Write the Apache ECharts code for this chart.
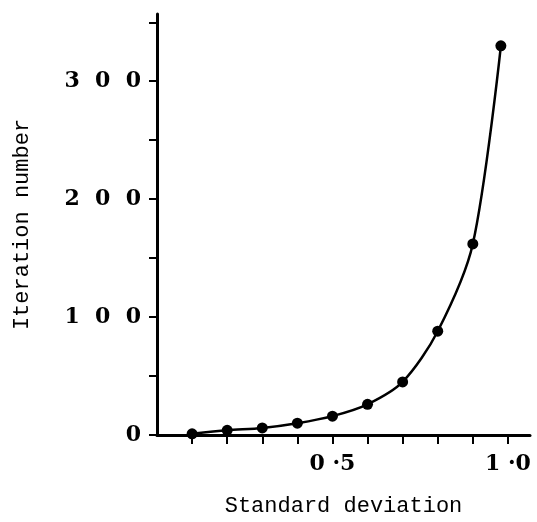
<!DOCTYPE HTML>
<html>
<head>
    <meta charset="utf-8">
    <title>Iteration number vs standard deviation</title>
    <script src="https://cdn.jsdelivr.net/npm/echarts@6/dist/echarts.min.js"></script>
    <style>
        html, body { margin: 0; padding: 0; background: #fff; }
        #myChart { width: 537px; height: 522px; }
    </style>
</head>
<body>
<div id="myChart"></div>
<script>
    // values
    var sdValues = [0.1, 0.2, 0.3, 0.4, 0.5, 0.6, 0.7, 0.8, 0.9, 0.98];
    var iterValues = [1, 4, 6, 10, 16, 26, 45, 88, 162, 330];
    var xTickValues = [0.1, 0.2, 0.3, 0.4, 0.5, 0.6, 0.7, 0.8, 0.9, 1.0];
    var xLabelValues = [0.5, 1.0];
    var xLabelText = ['0 ·5', '1 ·0'];
    var yTickValues = [0, 50, 100, 150, 200, 250, 300, 350];
    var yLabelValues = [0, 100, 200, 300];
    var yLabelText = ['0', '1  0  0', '2  0  0', '3  0  0'];

    var chart = echarts.init(document.getElementById('myChart'));
    var points = [];
    for (var i = 0; i < sdValues.length; i++) {
        points.push([sdValues[i], iterValues[i]]);
    }

    var option = {
        animation: false,
        backgroundColor: '#fff',
        grid: {
            left: 157,
            right: 7,
            top: 14,
            bottom: 86
        },
        xAxis: {
            type: 'value',
            min: 0,
            max: 1.063,
            name: 'Standard deviation',
            nameLocation: 'middle',
            nameGap: 60,
            nameTextStyle: {
                fontFamily: 'Liberation Mono',
                fontSize: 22,
                color: '#000'
            },
            splitLine: { show: false },
            axisLine: { lineStyle: { color: '#000', width: 3 } },
            axisTick: {
                customValues: xTickValues,
                length: 9,
                inside: false,
                lineStyle: { color: '#000', width: 2 }
            },
            axisLabel: {
                customValues: xLabelValues,
                margin: 18,
                color: '#000',
                fontFamily: 'DejaVu Serif',
                fontWeight: 'bold',
                fontSize: 22,
                formatter: function (v) {
                    var k = xLabelValues.indexOf(Math.round(v * 10) / 10);
                    return k >= 0 ? xLabelText[k] : '';
                }
            }
        },
        yAxis: {
            type: 'value',
            min: 0,
            max: 357,
            name: 'Iteration number',
            nameLocation: 'middle',
            nameGap: 124,
            nameTextStyle: {
                fontFamily: 'Liberation Mono',
                fontSize: 22,
                color: '#000'
            },
            splitLine: { show: false },
            axisLine: { lineStyle: { color: '#000', width: 3 } },
            axisTick: {
                customValues: yTickValues,
                length: 8,
                lineStyle: { color: '#000', width: 2 }
            },
            axisLabel: {
                customValues: yLabelValues,
                margin: 16,
                color: '#000',
                fontFamily: 'DejaVu Serif',
                fontWeight: 'bold',
                fontSize: 22,
                formatter: function (v) {
                    var k = yLabelValues.indexOf(v);
                    return k >= 0 ? yLabelText[k] : '';
                }
            }
        },
        series: [{
            type: 'line',
            data: points,
            smooth: 0.3,
            symbol: 'circle',
            symbolSize: 11,
            itemStyle: { color: '#000' },
            lineStyle: { color: '#000', width: 2.5 }
        }]
    };
    chart.setOption(option);
</script>
</body>
</html>
